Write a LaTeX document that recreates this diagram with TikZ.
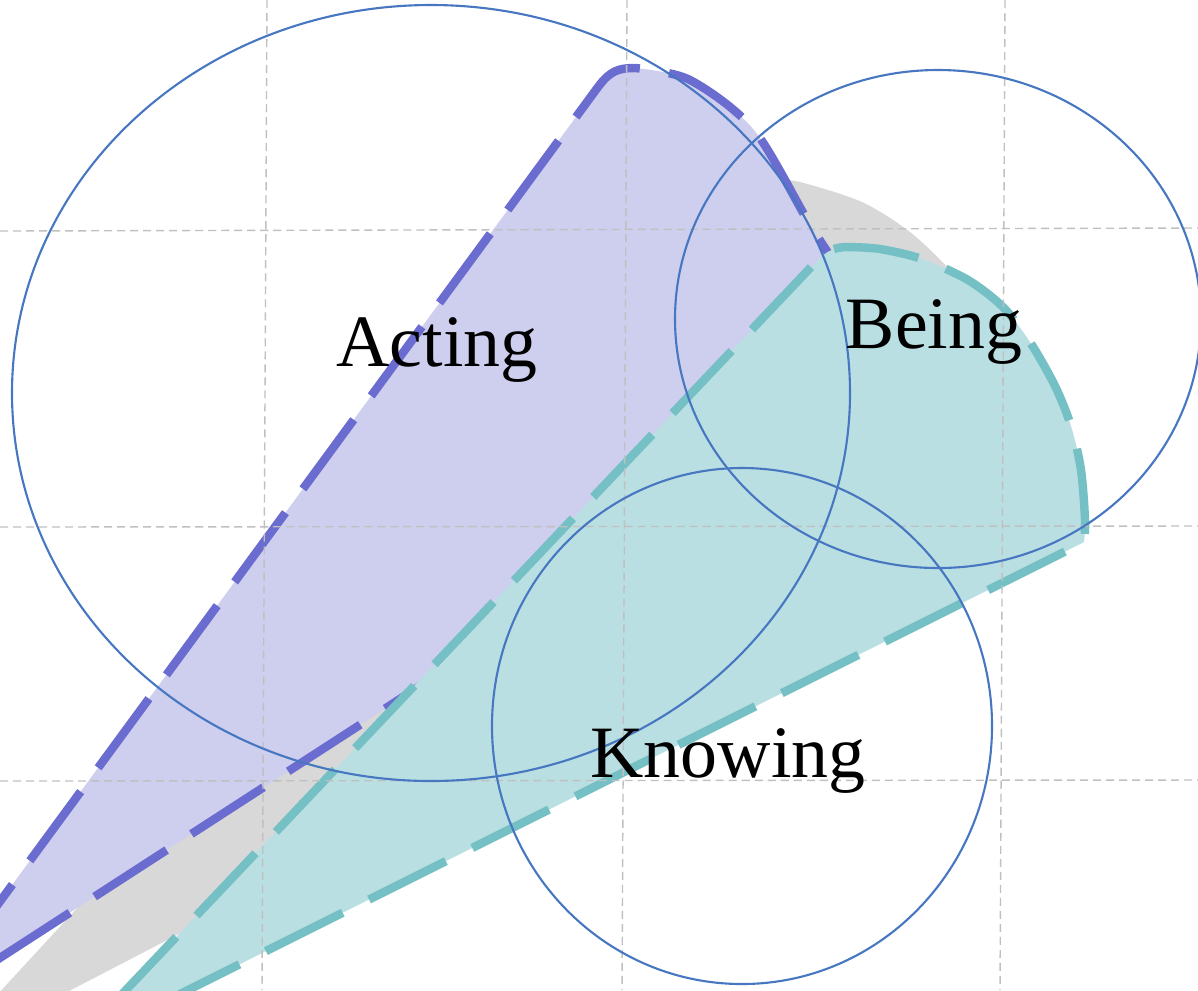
\documentclass[tikz,border=0pt]{standalone}
\usepackage{fontspec}
\setmainfont{Liberation Serif}
\definecolor{purplefill}{RGB}{206,206,238}
\definecolor{purpleline}{RGB}{107,108,207}
\definecolor{tealfill}{RGB}{185,223,226}
\definecolor{tealline}{RGB}{116,192,197}
\definecolor{graysec}{RGB}{216,216,216}
\definecolor{ringblue}{RGB}{70,119,192}
\definecolor{gridgray}{RGB}{192,192,192}
\begin{document}
\begin{tikzpicture}[x=0.01cm,y=-0.01cm,
  edge/.style={line width=2.4pt, dash pattern=on 24.4pt off 8.4pt, dash phase=13.3pt},
  ring/.style={draw=ringblue, line width=0.6pt},
  gridline/.style={draw=gridgray, line width=0.4pt, dash pattern=on 2.3pt off 1.4pt},
  word/.style={font=\fontsize{21}{25}\selectfont, anchor=base, inner sep=0pt}]
\useasboundingbox (0,0) rectangle (1198,990);
\begin{scope}
\clip (0,0) rectangle (1198,990);
% gray sector
\fill[graysec] (-62,1059) -- (725,205) .. controls (738,190) and (752,181) .. (770,179)
  -- plot[smooth] coordinates {(770,179) (800,182) (862,202) (910,232) (950,270) (978,305) (998,348) (1010,400) (1014,455) (1015,500)} -- cycle;
% purple sector
\path[fill=purplefill, draw=purpleline, edge] (-79,1009) -- (598,87) .. controls (610,71) and (618,68) .. (635,68)
  -- plot[smooth] coordinates {(635,68) (690,80) (754,130) (812,228) (860,300) (905,372)} -- cycle;
% teal sector
\path[fill=tealfill, draw=tealline, edge] (70,1049) -- (812,266) .. controls (825,252) and (832,247) .. (848,247)
  -- plot[smooth] coordinates {(848,247) (880,249) (922,259) (968,280) (1003,307) (1030,342) (1055,386) (1071,426) (1081,470) (1085,520) (1084,542)} -- cycle;
% grid
\draw[gridline] (267,0) -- (262,990);
\draw[gridline] (627,0) -- (622,990);
\draw[gridline] (1005,0) -- (1000,990);
\draw[gridline] (0,231) -- (1198,228);
\draw[gridline] (0,527) -- (1198,526);
\draw[gridline] (0,781) -- (1198,780);
% circles
\draw[ring] (431,393) ellipse [x radius=419, y radius=388];
\draw[ring] (938,319) ellipse [x radius=263, y radius=249];
\draw[ring] (742,726) ellipse [x radius=250, y radius=258];
\end{scope}
\node[word] (acting) at (437,366) {Acting};
\node[word] (being) at (934,348) {Being};
\node[word] (knowing) at (728,777) {Knowing};
\end{tikzpicture}
\end{document}
